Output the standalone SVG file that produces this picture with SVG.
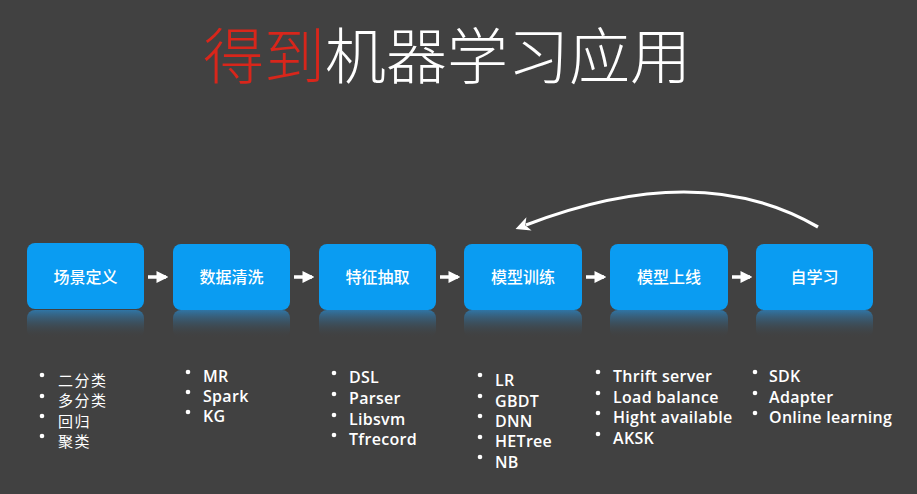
<svg xmlns="http://www.w3.org/2000/svg" width="917" height="494" viewBox="0 0 917 494">
<defs>
<linearGradient id="refl" x1="0" y1="0" x2="0" y2="1">
<stop offset="0" stop-color="#2f78ab" stop-opacity="0.95"/>
<stop offset="1" stop-color="#414141" stop-opacity="0"/>
</linearGradient>
<marker id="head" viewBox="0 0 10 10" refX="8" refY="5" markerWidth="3.4" markerHeight="3.4" orient="auto" markerUnits="strokeWidth">
<path d="M0,0 L10,5 L0,10 Z" fill="#fff"/>
</marker>
<marker id="bighead" viewBox="0 0 10 10" refX="2" refY="5" markerWidth="5" markerHeight="5" orient="auto-start-reverse" markerUnits="strokeWidth">
<path d="M0,0.5 L9,5 L0,9.5 L2.5,5 Z" fill="#fff"/>
</marker>
</defs>
<style>
.box{fill:#0a9cf2}
.rf{fill:url(#refl)}
.lbl{font-family:"Noto Sans CJK SC","Noto Sans",sans-serif;font-size:16px;font-weight:500;fill:#fff;text-anchor:middle}
.it{font-family:"Open Sans","DejaVu Sans",sans-serif;font-size:16px;font-weight:600;letter-spacing:0.3px;fill:#fff}
.cj{font-family:"Noto Sans CJK SC",sans-serif;font-size:15px;letter-spacing:1.5px;fill:#fff}
.dot{fill:#fff}
.con{stroke:#fff;fill:none}
</style>
<rect width="917" height="494" fill="#414141"/>
<text x="447" y="79" text-anchor="middle" font-family="Noto Sans CJK SC, sans-serif" font-size="61" font-weight="300" fill="#fff"><tspan fill="#d8261b">得到</tspan>机器学习应用</text>

<g id="connectors">
<line class="con" x1="148" y1="277" x2="166" y2="277" stroke-width="3.5" marker-end="url(#head)"/>
<line class="con" x1="294" y1="277" x2="312" y2="277" stroke-width="3.5" marker-end="url(#head)"/>
<line class="con" x1="440" y1="277" x2="458" y2="277" stroke-width="3.5" marker-end="url(#head)"/>
<line class="con" x1="586" y1="277" x2="604" y2="277" stroke-width="3.5" marker-end="url(#head)"/>
<line class="con" x1="732" y1="277" x2="750" y2="277" stroke-width="3.5" marker-end="url(#head)"/>
<path class="con" d="M818,227 Q700,158 526,225" stroke-width="3.2" marker-end="url(#bighead)"/>
</g>

<g id="n1"><rect class="rf" x="27" y="310" width="117" height="28" rx="8"/><rect class="box" x="27" y="243" width="117" height="66" rx="8"/><text class="lbl" x="85.5" y="283">场景定义</text></g>
<g id="n2"><rect class="rf" x="173" y="310" width="117" height="28" rx="8"/><rect class="box" x="173" y="244" width="117" height="66" rx="8"/><text class="lbl" x="231.5" y="283">数据清洗</text></g>
<g id="n3"><rect class="rf" x="319" y="310" width="117" height="28" rx="8"/><rect class="box" x="319" y="244" width="117" height="66" rx="8"/><text class="lbl" x="377.5" y="283">特征抽取</text></g>
<g id="n4"><rect class="rf" x="464" y="310" width="118" height="28" rx="8"/><rect class="box" x="464" y="244" width="118" height="66" rx="8"/><text class="lbl" x="523" y="283">模型训练</text></g>
<g id="n5"><rect class="rf" x="610" y="310" width="118" height="28" rx="8"/><rect class="box" x="610" y="244" width="118" height="66" rx="8"/><text class="lbl" x="669" y="283">模型上线</text></g>
<g id="n6"><rect class="rf" x="756" y="310" width="117" height="28" rx="8"/><rect class="box" x="756" y="244" width="117" height="66" rx="8"/><text class="lbl" x="814.5" y="283">自学习</text></g>

<g id="list1">
<circle class="dot" cx="42" cy="375" r="2.3"/><text class="cj" x="58" y="385.5">二分类</text>
<circle class="dot" cx="42" cy="396" r="2.3"/><text class="cj" x="58" y="406">多分类</text>
<circle class="dot" cx="42" cy="416" r="2.3"/><text class="cj" x="58" y="426.5">回归</text>
<circle class="dot" cx="42" cy="436" r="2.3"/><text class="cj" x="58" y="447">聚类</text>
</g>
<g id="list2">
<circle class="dot" cx="188" cy="372" r="2.3"/><text class="it" x="203" y="382">MR</text>
<circle class="dot" cx="188" cy="392" r="2.3"/><text class="it" x="203" y="402">Spark</text>
<circle class="dot" cx="188" cy="412" r="2.3"/><text class="it" x="203" y="422">KG</text>
</g>
<g id="list3">
<circle class="dot" cx="334" cy="373" r="2.3"/><text class="it" x="349" y="383">DSL</text>
<circle class="dot" cx="334" cy="394" r="2.3"/><text class="it" x="349" y="404">Parser</text>
<circle class="dot" cx="334" cy="415" r="2.3"/><text class="it" x="349" y="425">Libsvm</text>
<circle class="dot" cx="334" cy="435" r="2.3"/><text class="it" x="349" y="445">Tfrecord</text>
</g>
<g id="list4">
<circle class="dot" cx="480" cy="375" r="2.3"/><text class="it" x="495" y="386">LR</text>
<circle class="dot" cx="480" cy="396" r="2.3"/><text class="it" x="495" y="407">GBDT</text>
<circle class="dot" cx="480" cy="416" r="2.3"/><text class="it" x="495" y="427">DNN</text>
<circle class="dot" cx="480" cy="437" r="2.3"/><text class="it" x="495" y="447">HETree</text>
<circle class="dot" cx="480" cy="457" r="2.3"/><text class="it" x="495" y="468">NB</text>
</g>
<g id="list5">
<circle class="dot" cx="598" cy="372" r="2.3"/><text class="it" x="613" y="382">Thrift server</text>
<circle class="dot" cx="598" cy="393" r="2.3"/><text class="it" x="613" y="403">Load balance</text>
<circle class="dot" cx="598" cy="413" r="2.3"/><text class="it" x="613" y="423">Hight available</text>
<circle class="dot" cx="598" cy="434" r="2.3"/><text class="it" x="613" y="444">AKSK</text>
</g>
<g id="list6">
<circle class="dot" cx="755" cy="372" r="2.3"/><text class="it" x="769" y="382">SDK</text>
<circle class="dot" cx="755" cy="393" r="2.3"/><text class="it" x="769" y="403">Adapter</text>
<circle class="dot" cx="755" cy="413" r="2.3"/><text class="it" x="769" y="423">Online learning</text>
</g>
</svg>
